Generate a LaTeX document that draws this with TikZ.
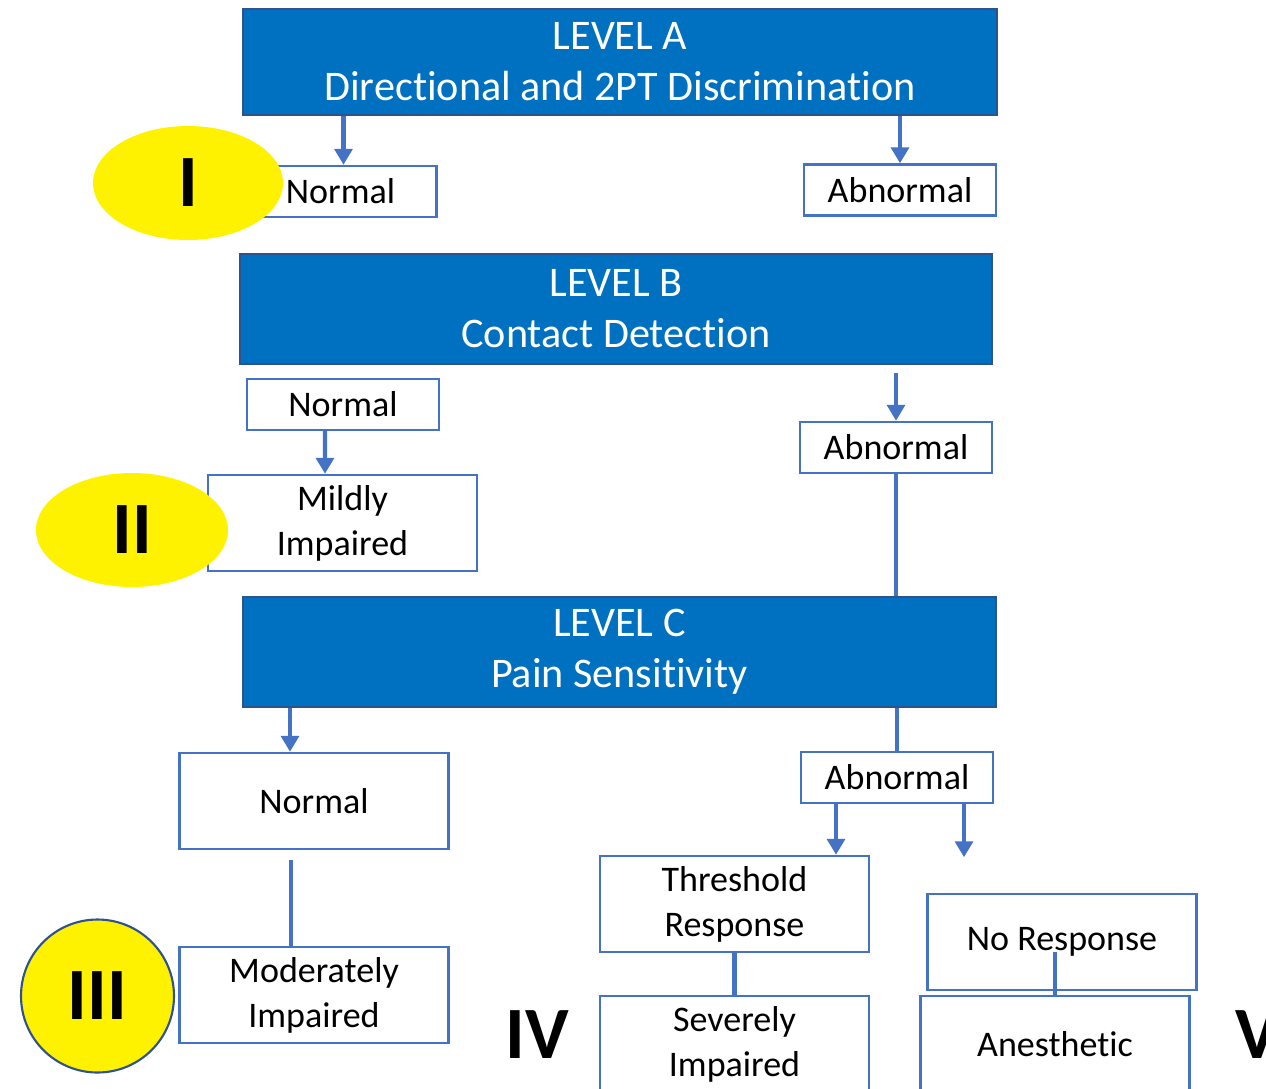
\documentclass[tikz,border=0pt]{standalone}
\usepackage{fontspec}
\setmainfont{Carlito}[Ligatures=NoCommon]
\usepackage{tikz}
\usetikzlibrary{arrows.meta,positioning,shapes.geometric,calc}

\definecolor{levelblue}{RGB}{0,112,192}
\definecolor{edgeblue}{RGB}{47,82,143}
\definecolor{lineblue}{RGB}{68,114,196}

\begin{document}
\begin{tikzpicture}[
  levelbox/.style={draw=edgeblue,line width=1.4pt,fill=levelblue,text=white,
               minimum width=15.06cm,minimum height=2.2cm,inner sep=0pt,
               align=center,font=\fontsize{24}{29}\selectfont},
  smallbox/.style={draw=lineblue,line width=1.4pt,fill=white,
               minimum width=3.84cm,minimum height=1.02cm,inner sep=0pt,
               align=center,font=\fontsize{20.5}{25.6}\selectfont},
  bigbox/.style={smallbox,minimum width=5.38cm,minimum height=1.92cm},
  badge/.style={ellipse,fill=yellow,inner sep=0pt,
               font=\fontsize{42}{42}\selectfont\bfseries},
  grade/.style={inner sep=0pt,font=\fontsize{42}{42}\selectfont\bfseries},
  arr/.style={-{Triangle[width=10pt,length=9pt]},draw=lineblue,line width=2.5pt},
  link/.style={draw=lineblue,line width=2.5pt},
]
  \useasboundingbox (0,0) rectangle (25.32,-21.76);

  % level A
  \node[levelbox,minimum width=15.08cm,minimum height=2.12cm] (lvA) at (12.4,-1.24)
    {LEVEL A\\Directional and 2PT Discrimination};
  \node[smallbox] (nA) at (6.81,-3.83) {Normal};
  \node[smallbox] (aA) at (18.0,-3.8)  {Abnormal};
  \node[badge,minimum width=3.8cm,minimum height=2.28cm] (g1) at (3.76,-3.66) {I};

  \draw[arr] ($(nA.north |- lvA.south)+(0.06,0)$) -- ($(nA.north)+(0.06,0)$);
  \draw[arr] (aA.north |- lvA.south) -- (aA.north);

  % level B
  \node[levelbox,minimum width=15.04cm] (lvB) at (12.32,-6.18)
    {LEVEL B\\Contact Detection};
  \node[smallbox] (nB) at (6.86,-8.09) {Normal};
  \node[smallbox] (aB) at (17.92,-8.95) {Abnormal};
  \node[bigbox] (mild) at (6.85,-10.46) {Mildly\\Impaired};
  \node[badge,minimum width=3.84cm,minimum height=2.28cm] (g2) at (2.64,-10.6) {II};

  \draw[arr] ($(nB.south)+(-0.36,0)$) -- ($(mild.north)+(-0.35,0)$);
  \draw[arr,shorten <=1.6mm] (aB.north |- lvB.south) -- (aB.north);

  % level C
  \node[levelbox] (lvC) at (12.39,-13.04) {LEVEL C\\Pain Sensitivity};
  \draw[link] (aB.south) -- (aB.south |- lvC.north);

  \node[bigbox] (normC) at (6.28,-16.02) {Normal};
  \node[bigbox] (mod)   at (6.28,-19.9) {Moderately\\Impaired};
  \node[smallbox] (aC)  at (17.94,-15.55) {Abnormal};
  \node[bigbox] (thr)   at (14.69,-18.08) {Threshold\\Response};
  \node[bigbox] (sev)   at (14.69,-20.88) {Severely\\Impaired};
  \node[bigbox] (noresp) at (21.24,-18.84) {No Response};
  \node[bigbox] (anes)  at (21.1,-20.88) {Anesthetic};

  \node[badge,circle,draw=edgeblue,line width=1.2pt,minimum size=3.06cm] (g3)
    at (1.95,-19.92) {III};
  \node[grade] (g4) at (10.74,-20.7) {IV};
  \node[grade,anchor=west] (g5) at (24.7,-20.7) {V};

  \draw[arr] ($(normC.north |- lvC.south)+(-0.48,0)$) -- ($(normC.north)+(-0.48,0)$);
  \draw[link,shorten <=2mm] ($(normC.south)+(-0.46,0)$) -- ($(mod.north)+(-0.46,0)$);
  \draw[link] (aC.north |- lvC.south) -- (aC.north);

  \coordinate (t1) at ($(aC.south)+(-1.22,0)$);
  \coordinate (t2) at ($(aC.south)+(1.34,-1.06)$);
  \draw[arr] (t1) -- (t1 |- thr.north);
  \draw[arr] (t2 |- aC.south) -- (t2);
  \draw[link] (thr.south) -- (sev.north);

  \coordinate (t3) at ($(anes.north)+(0,0.86)$);
  \draw[link] (t3) -- (anes.north);
\end{tikzpicture}
\end{document}
